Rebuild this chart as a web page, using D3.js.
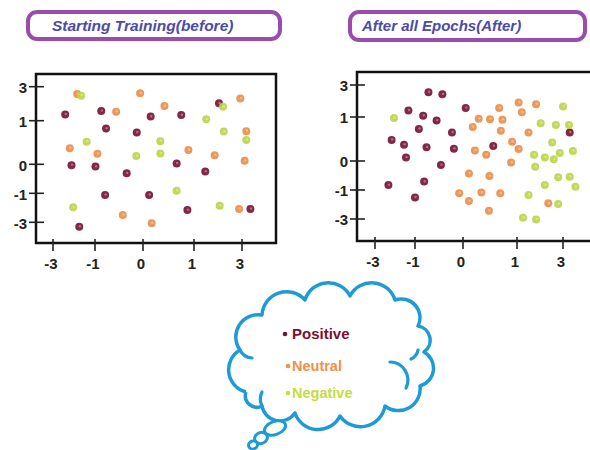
<!DOCTYPE html>
<html><head><meta charset="utf-8">
<script src="https://cdn.jsdelivr.net/npm/d3@7"></script>
<style>html,body{margin:0;padding:0;background:#fff;}svg{display:block;}</style>
</head><body>
<svg id="chart" width="590" height="450"></svg>
<script>
// ---------- data ----------
const categories = ["Positive", "Neutral", "Negative"];
const categoryColors = ["#7a1535", "#ec8f4a", "#bcd64a"];
const legendTextColors = ["#7a1030", "#f0904a", "#c5dc40"];
const titles = ["Starting Training(before)", "After all Epochs(After)"];
const tickValues = [-3, -1, 0, 1, 3];
const tickLabels = ["-3", "-1", "0", "1", "3"];

const beforePositive = [[2.04,2.02],[-2.42,1.37],[-0.87,1.57],[0.15,1.24],[0.75,1.33],[-0.77,0.82],[-0.13,0.73],[-2.12,-0.03],[-0.99,-0.08],[0.66,0.02],[-0.34,-0.31],[1.47,-0.25],[-0.79,-1.11],[0.12,-1.11],[3.35,-2.08],[0.87,-2.15],[-1.75,-3.30]];
const beforeNeutral = [[-1.85,2.57],[-0.06,2.61],[0.42,1.86],[2.93,2.31],[-0.56,1.53],[3.18,0.76],[-2.2,0.37],[-0.95,0.24],[0.89,0.33],[1.86,0.21],[3.11,0.08],[2.88,-2.08],[-0.42,-2.49],[0.17,-3.07]];
const beforeNegative = [[-1.66,2.47],[2.21,1.82],[1.51,1.08],[2.24,0.75],[-1.4,0.52],[0.34,0.53],[3.18,0.56],[-0.14,0.19],[0.34,0.25],[0.66,-0.91],[-2.04,-1.97],[2.07,-1.85]];

const afterPositive = [[-0.72,2.55],[-0.43,2.42],[0.05,1.56],[-1.33,1.41],[-0.83,1.08],[-0.55,0.92],[-0.92,0.73],[-0.23,0.65],[-2.17,0.48],[-1.55,0.37],[-0.76,0.31],[-0.19,0.28],[0.56,0.34],[-1.45,0.08],[-0.46,-0.14],[-0.81,-0.71],[-2.33,-0.83],[-1.0,-1.51],[3.29,0.65]];
const afterNeutral = [[0.67,1.56],[1.07,1.91],[1.83,1.8],[1.21,1.29],[0.29,0.96],[0.5,0.95],[0.73,0.94],[0.18,0.77],[0.7,0.69],[1.5,0.65],[0.91,0.44],[1.07,0.27],[0.22,0.24],[0.43,0.14],[0.89,-0.05],[0.11,-0.43],[0.49,-0.52],[-0.08,-1.23],[0.34,-1.18],[0.69,-1.23],[0.11,-1.76],[0.48,-2.43],[2.36,-1.92]];
const afterNegative = [[-2.05,0.98],[3.0,1.66],[2.03,0.86],[2.69,0.82],[3.26,0.82],[2.53,0.42],[1.74,0.14],[2.21,0.08],[2.6,0.04],[2.86,0.18],[3.43,0.23],[1.79,-0.2],[2.21,-0.83],[2.79,-0.56],[3.29,-0.54],[3.54,-0.89],[1.5,-1.34],[2.79,-1.97],[1.26,-2.91],[1.83,-3.03]];

// ---------- drawing ----------
const svg = d3.select("#chart");
const tickFont = "'Liberation Sans', Arial, sans-serif";

function titleBox(x, y, w, h, text, tx, fs) {
  svg.append("rect").attr("x", x).attr("y", y).attr("width", w).attr("height", h)
    .attr("rx", 9).attr("fill", "#fff").attr("stroke", "#9a4cae").attr("stroke-width", 4);
  svg.append("text").attr("x", tx).attr("y", y + h / 2 + 5)
    .attr("font-family", tickFont).attr("font-size", fs).attr("font-weight", "bold")
    .attr("font-style", "italic").attr("fill", "#4b4ba8").text(text);
}

function panel(cfg, groups) {
  const x = d3.scaleLinear().domain(tickValues).range(cfg.xr);
  const y = d3.scaleLinear().domain(tickValues).range(cfg.yr);
  const g = svg.append("g");
  // frame
  g.append("rect").attr("x", cfg.left).attr("y", cfg.top)
    .attr("width", cfg.right - cfg.left).attr("height", cfg.bottom - cfg.top)
    .attr("fill", "#fff").attr("stroke", "#111").attr("stroke-width", 2.5);
  // y ticks
  tickValues.forEach((v, i) => {
    g.append("line").attr("x1", cfg.left - 7).attr("x2", cfg.left + 8)
      .attr("y1", y(v)).attr("y2", y(v)).attr("stroke", "#222").attr("stroke-width", 1.6);
    g.append("text").attr("x", cfg.left - 9).attr("y", y(v) + 1).attr("dy", "0.35em")
      .attr("text-anchor", "end").attr("font-family", tickFont).attr("font-weight", "bold")
      .attr("font-size", 15).attr("fill", "#222").text(tickLabels[i]);
  });
  // x ticks
  tickValues.forEach((v, i) => {
    g.append("line").attr("x1", x(v)).attr("x2", x(v))
      .attr("y1", cfg.bottom - 4).attr("y2", cfg.bottom + 8).attr("stroke", "#222").attr("stroke-width", 1.6);
    g.append("text").attr("x", x(v) - 2).attr("y", cfg.bottom + 21).attr("dy", "0.35em")
      .attr("text-anchor", "middle").attr("font-family", tickFont).attr("font-weight", "bold")
      .attr("font-size", 15).attr("fill", "#222").text(tickLabels[i]);
  });
  // points
  groups.forEach((pts, ci) => {
    const pg = g.append("g");
    pg.selectAll("circle.pt").data(pts).enter().append("circle").attr("class", "pt")
      .attr("cx", d => x(d[0])).attr("cy", d => y(d[1])).attr("r", 4)
      .attr("fill", categoryColors[ci]).attr("fill-opacity", 0.92);
    pg.selectAll("circle.sp").data(pts).enter().append("circle").attr("class", "sp")
      .attr("cx", d => x(d[0]) + 0.6).attr("cy", d => y(d[1]) - 0.4).attr("r", 1.2)
      .attr("fill", "#fff").attr("fill-opacity", 0.35);
  });
}

titleBox(28, 12, 252, 27, titles[0], 52, 15.5);
titleBox(350, 12, 235, 28, titles[1], 362, 15);

panel({left: 36, right: 276, top: 74, bottom: 243,
       xr: [53, 95, 143, 194, 242], yr: [222.3, 193.3, 164.3, 120.7, 86.7]},
      [beforePositive, beforeNeutral, beforeNegative]);
panel({left: 357, right: 600, top: 72, bottom: 241,
       xr: [375, 415, 463, 517, 563], yr: [219, 190, 161, 117, 85]},
      [afterPositive, afterNeutral, afterNegative]);

// ---------- cloud legend ----------
const cloudColor = "#1e9bd7";
const anchors = [[246,392],[240,350],[262,315],[305,300],[350,296],[395,300],[418,326],[424,352],[420,386],[385,406],[340,416],[295,413],[262,406],[246,392]];
let dpath = "M" + anchors[0][0] + "," + anchors[0][1];
for (let i = 1; i < anchors.length; i++) {
  const [x0, y0] = anchors[i - 1], [x1, y1] = anchors[i];
  const r = Math.hypot(x1 - x0, y1 - y0) / 2 * 1.08;
  dpath += ` A${r.toFixed(1)},${r.toFixed(1)} 0 0 1 ${x1},${y1}`;
}
svg.append("path").attr("d", dpath).attr("fill", "#fff")
  .attr("stroke", cloudColor).attr("stroke-width", 3.5).attr("stroke-linejoin", "round");
// inner hooks
const hooks = ["M390,362 A18,18 0 0 1 406,388", "M418,350 A12,12 0 0 1 411,359", "M240,350 A14,14 0 0 0 252,358", "M262,406 A16,16 0 0 1 262,392"];
hooks.forEach(h => svg.append("path").attr("d", h).attr("fill", "none")
  .attr("stroke", cloudColor).attr("stroke-width", 3.2).attr("stroke-linecap", "round"));
// thought bubbles
[[275,428,11,6.5,-20],[261,438,6.5,5.5,-20],[253,445,4.5,4,-20]].forEach(b => {
  svg.append("ellipse").attr("cx", b[0]).attr("cy", b[1]).attr("rx", b[2]).attr("ry", b[3])
    .attr("transform", `rotate(${b[4]},${b[0]},${b[1]})`)
    .attr("fill", "#fff").attr("stroke", cloudColor).attr("stroke-width", 3);
});
// legend entries
const legendY = [334, 366, 393];
const legendX = [292, 292, 292];
categories.forEach((c, i) => {
  svg.append("circle").attr("cx", legendX[i] - (i === 0 ? 7 : 4)).attr("cy", legendY[i])
    .attr("r", 2.3).attr("fill", legendTextColors[i]);
  svg.append("text").attr("x", legendX[i]).attr("y", legendY[i]).attr("dy", "0.35em")
    .attr("font-family", tickFont).attr("font-size", i === 0 ? 15 : 14.5)
    .attr("font-weight", i === 0 ? "bold" : "600")
    .attr("fill", legendTextColors[i]).text(c);
});
</script>
</body></html>
